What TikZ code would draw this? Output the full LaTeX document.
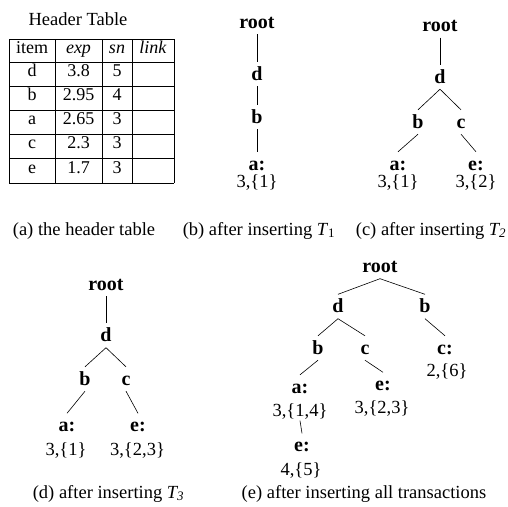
\documentclass[tikz,border=0pt]{standalone}
\usepackage{fontspec}
\setmainfont{Liberation Serif}
\usetikzlibrary{positioning}

\tikzset{
  tnode/.style={font=\bfseries\fontsize{20}{24}\selectfont, anchor=base,
    text height=14pt, text depth=2pt, inner xsep=2pt, inner ysep=4pt},
  tleaf/.style={tnode, text depth=0pt},
  tinfo/.style={font=\fontsize{18.5}{22}\selectfont, anchor=base,
    text height=11pt, text depth=4pt, inner sep=0pt},
  tcap/.style={font=\fontsize{18.5}{22}\selectfont, anchor=base, inner sep=0pt},
  tcell/.style={font=\fontsize{18}{22}\selectfont, text height=0.7em,
    text depth=0.2em, inner sep=0pt},
  tedge/.style={line width=0.6pt}
}

\begin{document}
\begin{tikzpicture}[x=1pt, y=-1pt]
    \useasboundingbox (0,0) rectangle (508,506);

    % (a) header table
    \node[tcap] (htitle) at (78,25) {Header Table};
    \foreach \y in {39,62,86,110,134,158,183} {
        \draw[line width=0.8pt] (9,\y) -- (174,\y);
    }
    \foreach \x in {9,55,102,132,174} {
        \draw[line width=0.8pt] (\x,39) -- (\x,183);
    }
    \node[tcell] (h-item) at (32,50.5) {item};
    \node[tcell] (h-exp) at (78.5,50.5) {\textit{exp}};
    \node[tcell] (h-sn) at (117,50.5) {\textit{sn}};
    \node[tcell] (h-link) at (153,50.5) {\textit{link}};
    \foreach \r/\y/\itm/\ex/\s in {1/74/d/3.8/5, 2/98/b/2.95/4, 3/122/a/2.65/3,
                                  4/146/c/2.3/3, 5/170.5/e/1.7/3} {
        \node[tcell] (item-\r) at (32,\y) {\itm};
        \node[tcell] (exp-\r) at (78.5,\y) {\ex};
        \node[tcell] (sn-\r) at (117,\y) {\s};
    }
    \node[tcap] (cap-a) at (84,235) {(a) the header table};

    % (b) after inserting T1
    \node[tnode] (b-root) at (257,28) {root};
    \node[tnode] (b-d) at (257,80) {d};
    \node[tnode] (b-b) at (257,123) {b};
    \node[tleaf] (b-a) at (257,170) {a:};
    \node[tinfo] (b-al) at (257,187) {3,\{1\}};
    \draw[tedge] (b-root.south) -- (b-d.north);
    \draw[tedge] (b-d.south) -- (b-b.north);
    \draw[tedge] (b-b.south) -- (b-a.north);
    \node[tcap] (cap-b) at (259,235) {(b) after inserting \textit{T}\textsubscript{1}};

    % (c) after inserting T2
    \node[tnode] (c-root) at (440,31.5) {root};
    \node[tnode] (c-d) at (440,83) {d};
    \node[tnode] (c-b) at (418,128) {b};
    \node[tnode] (c-c) at (461,128) {c};
    \node[tleaf] (c-a) at (398,170) {a:};
    \node[tleaf] (c-e) at (476,170) {e:};
    \node[tinfo] (c-al) at (398,187.5) {3,\{1\}};
    \node[tinfo] (c-el) at (476,187.5) {3,\{2\}};
    \draw[tedge] (c-root.south) -- (c-d.north);
    \draw[tedge] (c-d.south) -- (c-b.north);
    \draw[tedge] (c-d.south) -- (c-c.north);
    \draw[tedge] (c-b.south) -- (c-a.north);
    \draw[tedge] (c-c.south) -- (c-e.north);
    \node[tcap] (cap-c) at (431,235) {(c) after inserting \textit{T\textsubscript{2}}};

    % (d) after inserting T3
    \node[tnode] (d-root) at (106,290) {root};
    \node[tnode] (d-d) at (106,341.5) {d};
    \node[tnode] (d-b) at (85,385) {b};
    \node[tnode] (d-c) at (126,385) {c};
    \node[tleaf] (d-a) at (67,431.5) {a:};
    \node[tleaf] (d-e) at (138,431.5) {e:};
    \node[tinfo] (d-al) at (66,455) {3,\{1\}};
    \node[tinfo] (d-el) at (137.5,455) {3,\{2,3\}};
    \draw[tedge] (d-root.south) -- (d-d.north);
    \draw[tedge] (d-d.south) -- (d-b.north);
    \draw[tedge] (d-d.south) -- (d-c.north);
    \draw[tedge] (d-b.south) -- (d-a.north);
    \draw[tedge] (d-c.south) -- (d-e.north);
    \node[tcap] (cap-d) at (108.5,498) {(d) after inserting \textit{T\textsubscript{3}}};

    % (e) after inserting all transactions
    \node[tnode] (e-root) at (380,272.5) {root};
    \node[tnode] (e-d) at (338,312.5) {d};
    \node[tnode] (e-b) at (425,312.5) {b};
    \node[tnode] (e-db) at (318,354) {b};
    \node[tnode] (e-dc) at (365,354) {c};
    \node[tleaf] (e-bc) at (445,354) {c:};
    \node[tinfo] (e-bcl) at (447,376.5) {2,\{6\}};
    \node[tleaf] (e-a) at (300,393) {a:};
    \node[tleaf] (e-ce) at (383,390.5) {e:};
    \node[tinfo] (e-al) at (300,416.5) {3,\{1,4\}};
    \node[tinfo] (e-cel) at (382,413) {3,\{2,3\}};
    \node[tleaf] (e-ae) at (302,451.5) {e:};
    \node[tinfo] (e-ael) at (301,475) {4,\{5\}};
    \draw[tedge] (e-root.south) -- (e-d.north);
    \draw[tedge] (e-root.south) -- (e-b.north);
    \draw[tedge] (e-d.south) -- (e-db.north);
    \draw[tedge] (e-d.south) -- (e-dc.north);
    \draw[tedge] (e-b.south) -- (e-bc.north);
    \draw[tedge] (e-db.south) -- (e-a.north);
    \draw[tedge] (e-dc.south) -- (e-ce.north);
    \draw[tedge] (e-al.south) -- (e-ae.north);
    \node[tcap] (cap-e) at (364,498) {(e) after inserting all transactions};
\end{tikzpicture}
\end{document}
